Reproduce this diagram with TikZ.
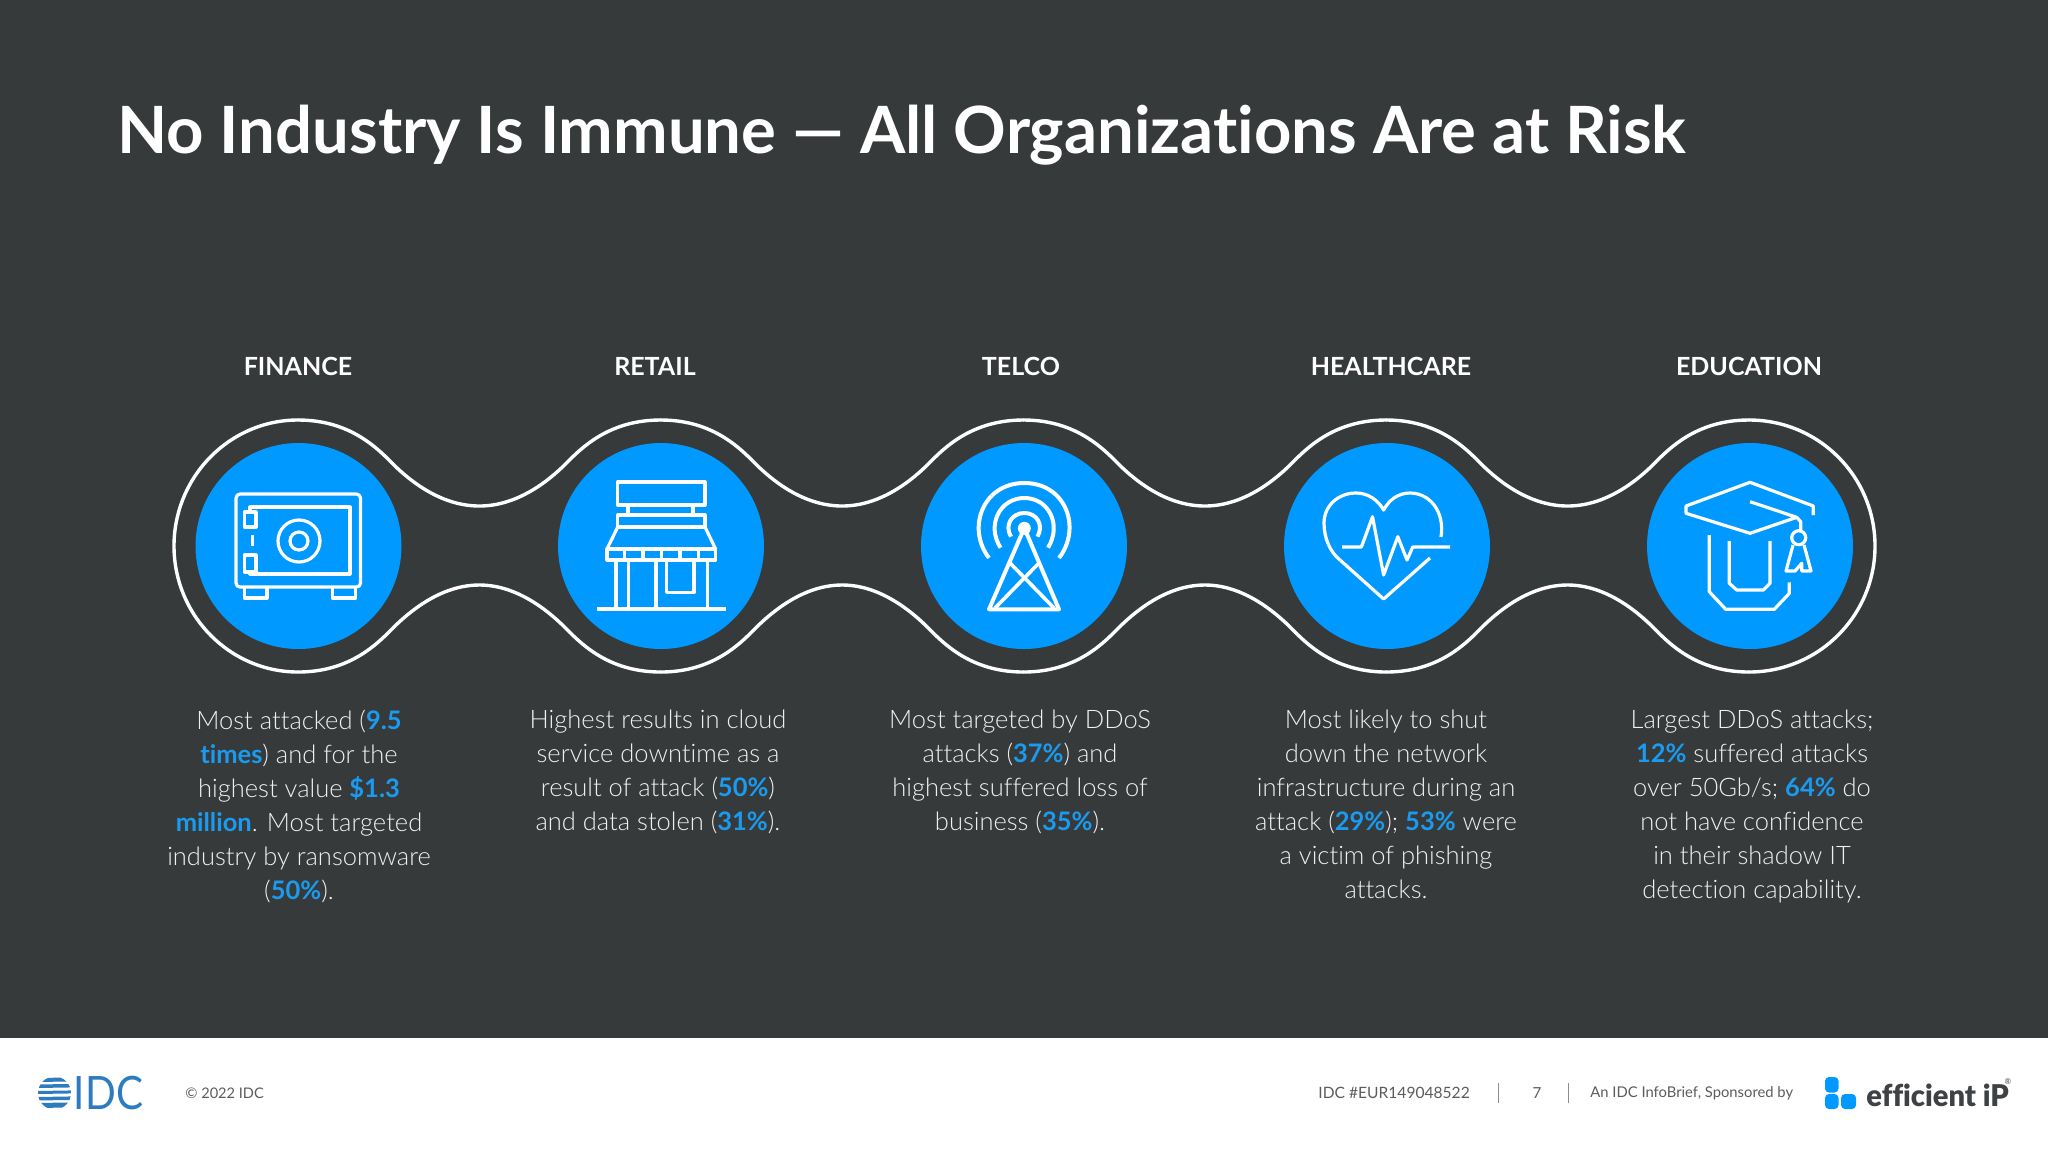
\documentclass[tikz,border=0pt]{standalone}
\usepackage{fontspec}
\setmainfont{Lato}[UprightFont=* Light,BoldFont=* Bold,Ligatures=NoCommon]
\newfontfamily\regfont{Lato}[Ligatures=NoCommon]
\newfontfamily\boldfont{Lato Black}[Ligatures=NoCommon]
\definecolor{slide}{HTML}{373A3A}
\definecolor{disc}{HTML}{0099FF}
\definecolor{hilite}{HTML}{1A9BF0}
\definecolor{idcblue}{HTML}{2E7CC0}
\definecolor{foot}{HTML}{5A5C5E}
\definecolor{ipgrey}{HTML}{3F4244}
\newcommand{\hl}[1]{\textcolor{hilite}{\bfseries #1}}
\tikzset{
  contour/.style={draw=white,line width=1.7pt,line cap=round},
  icon/.style={draw=white,line width=1.6pt,line join=round,line cap=butt},
  disc/.style={circle,fill=disc,minimum size=103pt,inner sep=0pt},
  head/.style={text=white,font=\fontsize{12.5}{16}\selectfont\bfseries,anchor=center},
  para/.style={text=white!94!black,align=center,anchor=north,font=\fontsize{12.75}{17}\selectfont,inner sep=0pt},
  foottext/.style={text=foot,font=\regfont\fontsize{7.6}{9}\selectfont,inner sep=0pt},
  sep/.style={draw=foot!70,line width=0.5pt}
}
\begin{document}
\begin{tikzpicture}[x=0.5pt,y=-0.5pt]
\useasboundingbox (0,0) rectangle (2048,1152);
\fill[slide] (0,0) rectangle (2048,1038);
\fill[white] (0,1038) rectangle (2048,1152);
\node[anchor=west,inner sep=0pt,text=white,font=\fontsize{32.6}{36}\selectfont\bfseries] (title) at (117,135) {No Industry Is Immune — All Organizations Are at Risk};
% contour
\foreach \c in {298,660.75,1023.5,1386.25}{
  \draw[contour] (\c,420) .. controls (\c+47,420) and (\c+74,443) .. (\c+91,460) .. controls (\c+116,486) and (\c+147,506) .. (\c+181.4,506) .. controls (\c+215.5,506) and (\c+246.5,486) .. (\c+271.5,460) .. controls (\c+288.5,443) and (\c+315.5,420) .. (\c+362.75,420);
  \draw[contour] (\c,672) .. controls (\c+47,672) and (\c+74,649) .. (\c+91,632) .. controls (\c+116,606) and (\c+147,585) .. (\c+181.4,585) .. controls (\c+215.5,585) and (\c+246.5,606) .. (\c+271.5,632) .. controls (\c+288.5,649) and (\c+315.5,672) .. (\c+362.75,672);
}
\draw[contour] (298,420) .. controls (230,420) and (174,476.4) .. (174,546) .. controls (174,615.6) and (230,672) .. (298,672);
\draw[contour] (1749,420) .. controls (1818.6,420) and (1875,476.4) .. (1875,546) .. controls (1875,615.6) and (1818.6,672) .. (1749,672);
% discs
\node[disc] (d1) at (298.5,546) {};
\node[disc] (d2) at (661,546) {};
\node[disc] (d3) at (1024,546) {};
\node[disc] (d4) at (1387,546) {};
\node[disc] (d5) at (1750,546) {};
% headings
\node[head] (h1) at (298,366) {FINANCE};
\node[head] (h2) at (655,366) {RETAIL};
\node[head] (h3) at (1021,366) {TELCO};
\node[head] (h4) at (1391,366) {HEALTHCARE};
\node[head] (h5) at (1749,366) {EDUCATION};
% paragraphs
\node[para] (p1) at (299,710) {Most attacked (\hl{9.5}\\\hl{times}) and for the\\highest value \hl{\$1.3}\\\hl{million}. Most targeted\\industry by ransomware\\(\hl{50\%}).};
\node[para] (p2) at (658,710) {Highest results in cloud\\service downtime as a\\result of attack (\hl{50\%})\\and data stolen (\hl{31\%}).};
\node[para] (p3) at (1020,710) {Most targeted by DDoS\\attacks (\hl{37\%}) and\\highest suffered loss of\\business (\hl{35\%}).};
\node[para] (p4) at (1386,710) {Most likely to shut\\down the network\\infrastructure during an\\attack (\hl{29\%}); \hl{53\%} were\\a victim of phishing\\attacks.};
\node[para] (p5) at (1752,710) {Largest DDoS attacks;\\\hl{12\%} suffered attacks\\over 50Gb/s; \hl{64\%} do\\not have confidence\\in their shadow IT\\detection capability.};
% safe
\draw[icon,rounded corners=2pt] (236,494) rectangle (360.5,587);
\draw[icon] (250,512) -- (250,507) -- (350,507) -- (350,574) -- (250,574) -- (250,572);
\draw[icon] (244.5,512) rectangle (256,527);
\draw[icon] (244.5,555) rectangle (256,572);
\draw[icon] (252.5,535) -- (252.5,546);
\draw[icon] (299,541) circle (21);
\draw[icon] (299,541) circle (9);
\draw[icon] (244.5,587) -- (244.5,598) -- (267,598) -- (267,587);
\draw[icon] (332.5,587) -- (332.5,598) -- (355.5,598) -- (355.5,587);
% store
\draw[icon] (617.7,482) rectangle (705,505);
\draw[icon] (628,505) -- (628,515);
\draw[icon] (693,505) -- (693,515);
\draw[icon] (617.7,515) rectangle (705,527);
\draw[icon] (617.7,527) -- (607,549) -- (715.6,549) -- (705,527);
\draw[icon] (607,549) rectangle (715.6,560);
\foreach \x in {624.5,643,661.6,680,698.4}{\draw[icon] (\x,549) -- (\x,560);}
\foreach \x in {616,628.4,656,707.6}{\draw[icon] (\x,560) -- (\x,609);}
\draw[icon] (597,609) -- (726,609);
\draw[icon] (666.7,560) -- (666.7,592.7) -- (694,592.7) -- (694,560);
% tower
\fill[white] (1024.3,528.3) circle (6.5);
\draw[icon,line width=2pt] (989,558) .. controls (966,528) and (983,483) .. (1024.3,483) .. controls (1066,483) and (1082,528) .. (1059,558);
\draw[icon,line width=2pt] (1000.5,547.7) .. controls (986,525) and (1000,498) .. (1024.3,498) .. controls (1049,498) and (1062,525) .. (1048,547.7);
\draw[icon,line width=2pt] (1011,536.7) .. controls (1004,525) and (1012,513) .. (1024.3,513) .. controls (1037,513) and (1044,525) .. (1037.5,536.7);
\draw[icon,line width=2pt] (989,609.3) -- (1024.3,528) -- (1059,609.3) -- cycle;
\draw[icon,line width=1.8pt] (1010,563) -- (1054,608);
\draw[icon,line width=1.8pt] (1039,563) -- (995,608);
% heart
\draw[icon] (1441,537) .. controls (1445,512) and (1430,493) .. (1410,493) .. controls (1398,493) and (1389,500) .. (1383.6,510) .. controls (1378,500) and (1368,493) .. (1356,493) .. controls (1338,493) and (1324,506) .. (1324,523) .. controls (1324,538) and (1330,552) .. (1340,560) -- (1383.6,599) -- (1430,558);
\draw[icon] (1342,547) -- (1361.4,547) -- (1372.5,516.7) -- (1383.6,575) -- (1397.8,536.7) -- (1407,560) -- (1412.7,547) -- (1450,547);
% graduate
\draw[icon] (1813.3,515) -- (1813.3,506) -- (1750,482.3) -- (1686,506) -- (1686,513.3) -- (1750,533.3) -- (1796.7,517.3) -- (1750,501.7);
\draw[icon] (1796.7,517.3) -- (1800.7,521.7) -- (1800.7,531.7);
\draw[icon] (1798.7,537.7) circle (7);
\draw[icon] (1793,545) -- (1786,571) -- (1795,571) -- (1801.7,563.3) -- (1801.7,571) -- (1811,571) -- (1804,545);
\draw[icon] (1709.3,535) -- (1709.3,591.7) -- (1725.7,609.3) -- (1774.3,609.3) -- (1789.3,593.3) -- (1789.3,582.3);
\draw[icon] (1729.3,541) -- (1729.3,583.3) -- (1736.7,590) -- (1763.3,590) -- (1770,583.3) -- (1770,541);
% IDC logo
\begin{scope}
  \clip (54.5,1093) circle (16.5);
  \foreach \y/\h in {1078/4,1084.5/3.5,1091/3,1097/3.5,1103/5}{
    \fill[idcblue] (36,\y) -- (73,\y-0.6) -- (73,\y-0.6+\h) -- (36,\y+\h) -- cycle;
  }
\end{scope}
\node[anchor=west,inner sep=0pt,text=idcblue,font=\regfont\fontsize{23}{26}\selectfont] (idc) at (73.5,1093) {\scalebox{0.88}[1]{IDC}};
% footer
\node[foottext,anchor=west,font=\regfont\fontsize{7.3}{9}\selectfont] (copy) at (185,1093) {© 2022 IDC};
\node[foottext,anchor=west,font=\regfont\fontsize{7.8}{9}\selectfont] (ref) at (1318,1093) {IDC \#EUR149048522};
\node[foottext] (pg) at (1537,1093) {7};
\node[foottext,anchor=west,font=\regfont\fontsize{7.4}{9}\selectfont] (spons) at (1590,1093) {An IDC InfoBrief, Sponsored by};
\draw[sep] (1498,1083) -- (1498,1103);
\draw[sep] (1568,1083) -- (1568,1103);
% efficient iP logo
\fill[disc,rounded corners=2pt] (1825,1077) rectangle (1838.5,1092.5);
\fill[disc,rounded corners=2pt] (1825,1094) rectangle (1838.5,1109);
\fill[disc,rounded corners=2pt] (1841,1094) rectangle (1856,1109);
\node[anchor=west,inner sep=0pt,text=ipgrey,font=\boldfont\fontsize{15}{18}\selectfont] (eip) at (1866,1095) {\scalebox{0.97}[1]{efficient iP}};
\node[anchor=center,inner sep=0pt,text=ipgrey,font=\regfont\fontsize{4}{5}\selectfont] (reg) at (2008,1082) {®};
\end{tikzpicture}
\end{document}
